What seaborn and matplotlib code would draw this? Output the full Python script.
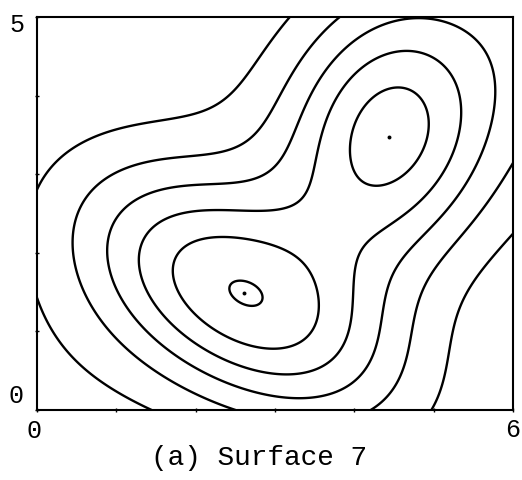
import numpy as np
import matplotlib
matplotlib.use("Agg")
import matplotlib.pyplot as plt
import seaborn as sns

# Contour levels of the surface
levels = [1, 2, 3, 4, 5, 6]

# Two elliptical Gaussian bumps: centre, height, spreads, rotation (degrees)
bump_x = [2.598, 4.413]
bump_y = [1.394, 3.486]
bump_height = [5.081, 4.088]
bump_sx = [1.578, 1.165]
bump_sy = [0.865, 0.882]
bump_angle = [-33.8, 78.7]

# Diagonal ridge that rises towards the upper right, plus a constant base
base_level = -0.305
ridge_height = 1.384
ridge_growth = 0.135
ridge_angle = 34.3
ridge_offset = -0.021
ridge_width = 1.553

# Marked summits
peak_x = [2.61, 4.44]
peak_y = [1.49, 3.47]

# Axis ticks and labels
x_range = [0, 6]
y_range = [0, 5]
x_labels = ["0", "6"]
y_labels = ["0", "5"]
caption = "(a) Surface 7"

sns.set_theme(style="white")
plt.rcParams["font.family"] = ["Liberation Mono", "DejaVu Sans Mono"]


def surface(x, y):
    z = np.full_like(x, base_level)
    for cx, cy, h, sx, sy, ang in zip(bump_x, bump_y, bump_height, bump_sx, bump_sy, bump_angle):
        t = np.radians(ang)
        dx, dy = x - cx, y - cy
        u = dx * np.cos(t) + dy * np.sin(t)
        v = -dx * np.sin(t) + dy * np.cos(t)
        z += h * np.exp(-0.5 * ((u / sx) ** 2 + (v / sy) ** 2))
    t = np.radians(ridge_angle)
    dx, dy = x - 3.0, y - 2.5
    along = dx * np.cos(t) + dy * np.sin(t)
    across = -dx * np.sin(t) + dy * np.cos(t)
    z += ridge_height * np.exp(ridge_growth * along - 0.5 * ((across - ridge_offset) / ridge_width) ** 2)
    return z


xs = np.linspace(x_range[0], x_range[1], 361)
ys = np.linspace(y_range[0], y_range[1], 301)
gx, gy = np.meshgrid(xs, ys)
gz = surface(gx, gy)

fig = plt.figure(figsize=(5.22, 4.80), dpi=100)
fig.patch.set_facecolor("white")
ax = fig.add_axes([37 / 522, 70 / 480, 476 / 522, 393 / 480])
ax.set_facecolor("white")

ax.contour(gx, gy, gz, levels=levels, colors="black", linewidths=1.7)
sns.scatterplot(x=peak_x, y=peak_y, ax=ax, color="black", s=8, linewidth=0, zorder=3)

ax.set_xlim(*x_range)
ax.set_ylim(*y_range)
ax.set_xticks(range(x_range[0], x_range[1] + 1))
ax.set_yticks(range(y_range[0], y_range[1] + 1))
ax.tick_params(axis="both", direction="inout", length=3, width=1.0, color="black",
               labelbottom=False, labelleft=False, bottom=True, left=True)
for side in ax.spines.values():
    side.set_visible(True)
    side.set_color("black")
    side.set_linewidth(1.5)

label_style = dict(fontsize=18, color="black", ha="center", va="baseline",
                   textcoords="offset points", annotation_clip=False)
ax.annotate(y_labels[1], xy=(x_range[0], y_range[1]), xytext=(-14.8, -10.8), **label_style)
ax.annotate(y_labels[0], xy=(x_range[0], y_range[0]), xytext=(-14.8, 5.0), **label_style)
ax.annotate(x_labels[0], xy=(x_range[0], y_range[0]), xytext=(-2.5, -20.2), **label_style)
ax.annotate(x_labels[1], xy=(x_range[1], y_range[0]), xytext=(0.0, -19.4), **label_style)

fig.text(259 / 522, 1 - 465 / 480, caption, fontsize=20, color="black",
         ha="center", va="baseline")

fig.savefig("out.png", dpi=100, facecolor="white")
